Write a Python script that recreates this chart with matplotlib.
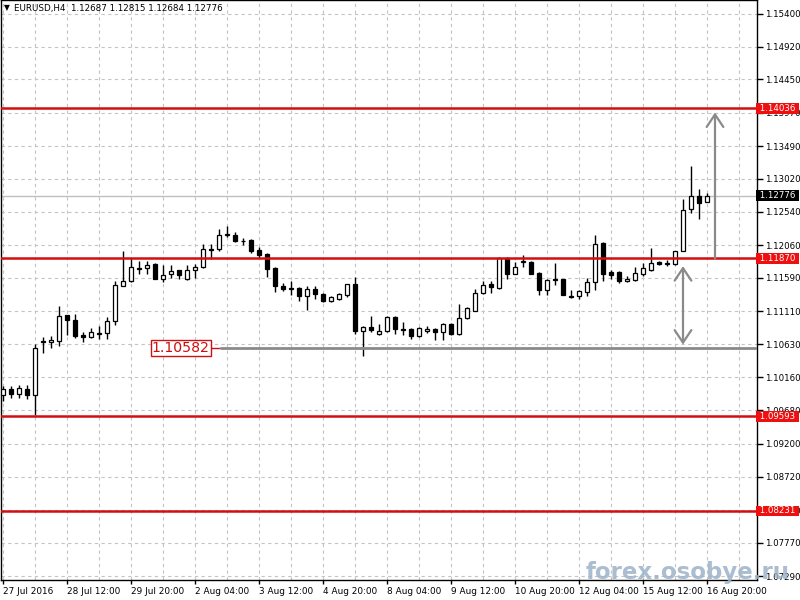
import numpy as np
import matplotlib.pyplot as plt

plt.rcParams['font.family'] = 'DejaVu Sans'

header = "EURUSD,H4  1.12687 1.12815 1.12684 1.12776"

# OHLC, H4 bars from 27 Jul 2016
opens = [1.09906, 1.09993, 1.09921, 1.09993, 1.09899, 1.10679, 1.10672, 1.10676, 1.11057, 1.10989,
         1.10763, 1.10739, 1.10787, 1.10797, 1.10975, 1.11480, 1.11542, 1.11736, 1.11736, 1.11794,
         1.11571, 1.11639, 1.11697, 1.11567, 1.11701, 1.11750, 1.12010, 1.12000, 1.12212, 1.12202,
         1.12126, 1.12130, 1.11986, 1.11928, 1.11726, 1.11470, 1.11451, 1.11447, 1.11326, 1.11437,
         1.11360, 1.11254, 1.11292, 1.11340, 1.11495, 1.10820, 1.10878, 1.10783, 1.10820, 1.11028,
         1.10859, 1.10859, 1.10748, 1.10820, 1.10855, 1.10812, 1.10927, 1.10783, 1.11008, 1.11119,
         1.11375, 1.11495, 1.11447, 1.11880, 1.11649, 1.11817, 1.11822, 1.11664, 1.11412, 1.11557,
         1.11567, 1.11336, 1.11326, 1.11389, 1.11534, 1.12097, 1.11672, 1.11672, 1.11542, 1.11557,
         1.11653, 1.11711, 1.11817, 1.11808, 1.11794, 1.11976, 1.12578, 1.12770, 1.12687]
highs = [1.10036, 1.10036, 1.10051, 1.10051, 1.10643, 1.10744, 1.10758, 1.11191, 1.11061, 1.11076,
         1.10816, 1.10874, 1.10892, 1.11022, 1.11542, 1.11971, 1.11880, 1.11827, 1.11831, 1.11808,
         1.11769, 1.11783, 1.11711, 1.11769, 1.11794, 1.12072, 1.12072, 1.12289, 1.12336, 1.12256,
         1.12169, 1.12144, 1.12039, 1.11952, 1.11750, 1.11519, 1.11552, 1.11456, 1.11470, 1.11480,
         1.11375, 1.11336, 1.11375, 1.11509, 1.11600, 1.10892, 1.11047, 1.10931, 1.11037, 1.11047,
         1.10956, 1.10869, 1.10878, 1.10903, 1.10869, 1.10942, 1.10942, 1.11216, 1.11173, 1.11437,
         1.11552, 1.11542, 1.11885, 1.11885, 1.11817, 1.11913, 1.11831, 1.11678, 1.11581, 1.11808,
         1.11574, 1.11422, 1.11422, 1.11591, 1.12202, 1.12101, 1.11711, 1.11687, 1.11615, 1.11750,
         1.11808, 1.12025, 1.11831, 1.11841, 1.11976, 1.12722, 1.13203, 1.12866, 1.12815]
lows = [1.09820, 1.09863, 1.09863, 1.09848, 1.09617, 1.10513, 1.10585, 1.10614, 1.10773, 1.10729,
        1.10661, 1.10729, 1.10715, 1.10715, 1.10907, 1.11470, 1.11538, 1.11653, 1.11649, 1.11567,
        1.11528, 1.11591, 1.11567, 1.11557, 1.11591, 1.11726, 1.11866, 1.11976, 1.12183, 1.12111,
        1.12062, 1.11952, 1.11880, 1.11600, 1.11383, 1.11398, 1.11340, 1.11254, 1.11124, 1.11288,
        1.11245, 1.11239, 1.11278, 1.11317, 1.10787, 1.10459, 1.10806, 1.10773, 1.10816, 1.10783,
        1.10773, 1.10715, 1.10744, 1.10797, 1.10690, 1.10690, 1.10773, 1.10773, 1.10999, 1.11109,
        1.11365, 1.11375, 1.11437, 1.11567, 1.11639, 1.11750, 1.11639, 1.11340, 1.11350, 1.11485,
        1.11340, 1.11303, 1.11292, 1.11326, 1.11422, 1.11542, 1.11581, 1.11519, 1.11528, 1.11542,
        1.11615, 1.11687, 1.11783, 1.11759, 1.11783, 1.11971, 1.12520, 1.12443, 1.12684]
closes = [1.09993, 1.09921, 1.10007, 1.09906, 1.10585, 1.10664, 1.10700, 1.11047, 1.10985, 1.10748,
          1.10734, 1.10816, 1.10797, 1.10975, 1.11490, 1.11552, 1.11750, 1.11721, 1.11783, 1.11571,
          1.11635, 1.11692, 1.11625, 1.11711, 1.11750, 1.12010, 1.11996, 1.12212, 1.12221, 1.12120,
          1.12116, 1.11976, 1.11918, 1.11721, 1.11480, 1.11433, 1.11437, 1.11326, 1.11433, 1.11360,
          1.11264, 1.11317, 1.11360, 1.11495, 1.10820, 1.10878, 1.10835, 1.10820, 1.11028, 1.10855,
          1.10845, 1.10748, 1.10869, 1.10855, 1.10812, 1.10927, 1.10783, 1.11014, 1.11158, 1.11375,
          1.11490, 1.11461, 1.11880, 1.11649, 1.11750, 1.11827, 1.11653, 1.11412, 1.11557, 1.11567,
          1.11350, 1.11317, 1.11398, 1.11534, 1.12082, 1.11653, 1.11629, 1.11542, 1.11581, 1.11664,
          1.11736, 1.11808, 1.11794, 1.11794, 1.11976, 1.12568, 1.12770, 1.12674, 1.12776]

x_labels = ['27 Jul 2016', '28 Jul 12:00', '29 Jul 20:00', '2 Aug 04:00', '3 Aug 12:00', '4 Aug 20:00',
            '8 Aug 04:00', '9 Aug 12:00', '10 Aug 20:00', '12 Aug 04:00', '15 Aug 12:00', '16 Aug 20:00']
y_ticks = [1.15400, 1.14920, 1.14450, 1.13970, 1.13490, 1.13020, 1.12540, 1.12060, 1.11590,
           1.11110, 1.10630, 1.10160, 1.09680, 1.09200, 1.08720, 1.08240, 1.07770, 1.07290]

levels = [1.14036, 1.11870, 1.09593, 1.08231]   # red horizontal lines
bid = 1.12776
marked = 1.10582

fig = plt.figure(figsize=(8, 6), dpi=100)
ax = fig.add_axes([1 / 800, 20 / 600, 756 / 800, 1 - 20 / 600])

red_line = '#d01010'
red_box = '#ee1010'
gray = '#8a8a8a'

o = np.array(opens)
h = np.array(highs)
l = np.array(lows)
c = np.array(closes)
x = np.arange(len(o))
up = c >= o

# candles
ax.vlines(x, l, h, color='black', lw=1, zorder=3)
body_lo = np.minimum(o, c)
body_h = np.maximum(np.abs(c - o), 0.00003)
ax.bar(x, body_h, width=0.62, bottom=body_lo, color=np.where(up, 'white', 'black'),
       edgecolor='black', linewidth=0.9, zorder=4)

ax.set_xlim(-0.25, 94.25)
ax.set_ylim(1.07235, 1.15596)

# grid + ticks
ax.set_xticks(np.arange(0, 8 * len(x_labels), 8))
ax.set_xticklabels(x_labels, ha='left', fontsize=6.4)
ax.set_xticks(np.arange(4, 96, 8), minor=True)
ax.yaxis.tick_right()
ax.set_yticks(y_ticks)
ax.set_yticklabels(['%.5f' % v for v in y_ticks], fontsize=6.2)
ax.tick_params(axis='x', which='major', length=3, pad=2, width=1)
ax.tick_params(axis='x', which='minor', length=0)
ax.tick_params(axis='y', length=4, pad=2, width=1)
ax.grid(which='both', color='#c4c4c4', linestyle=(0, (3, 3)), lw=0.8, zorder=0)
for s in ax.spines.values():
    s.set_color('black')
    s.set_linewidth(1)

# bid line
ax.axhline(bid, color='#c0c0c0', lw=1, zorder=1)

# levels
for v in levels:
    ax.axhline(v, color=red_line, lw=1.8, zorder=5)

ytr = ax.get_yaxis_transform()
for v in levels:
    ax.text(1.0, v, ' %.5f ' % v, transform=ytr, ha='left', va='center', fontsize=6.2, color='white',
            bbox=dict(boxstyle='square,pad=0.1', fc=red_box, ec='none'), clip_on=False, zorder=10)
ax.text(1.0, bid, ' %.5f ' % bid, transform=ytr, ha='left', va='center', fontsize=6.2, color='white',
        bbox=dict(boxstyle='square,pad=0.1', fc='black', ec='none'), clip_on=False, zorder=10)

# marked low level with label
ax.hlines(marked, 27.1, 94.25, color=gray, lw=2, zorder=5)
ax.hlines(marked, 25.9, 27.1, color=red_line, lw=1, zorder=5)
ax.text(25.85, marked, '%.5f' % marked, ha='right', va='center', fontsize=10.2, color='#cc1010',
        bbox=dict(boxstyle='square,pad=0.08', fc='white', ec=red_line, lw=1), zorder=6)

# arrows
ax.annotate('', xy=(89, 1.13975), xytext=(89, levels[1]),
            arrowprops=dict(arrowstyle='->,head_length=0.6,head_width=0.4', color=gray, lw=1.6,
                            mutation_scale=15, shrinkA=0, shrinkB=0), zorder=6)
ax.annotate('', xy=(85, 1.11760), xytext=(85, 1.10628),
            arrowprops=dict(arrowstyle='<->,head_length=0.6,head_width=0.4', color=gray, lw=1.6,
                            mutation_scale=15, shrinkA=0, shrinkB=0), zorder=6)

# header
fig.text(4 / 800, 1 - 8 / 600, '\u25bc', fontsize=5.5, va='center', ha='left')
fig.text(14 / 800, 1 - 8 / 600, header, fontsize=6.3, va='center', ha='left')

# watermark
fig.text(790 / 800, 1 - 572 / 600, 'forex.osobye.ru', fontsize=16.5, fontweight='bold',
         color='#9cb2c8', alpha=0.85, ha='right', va='center', zorder=20)

fig.savefig('out.png', dpi=100)
